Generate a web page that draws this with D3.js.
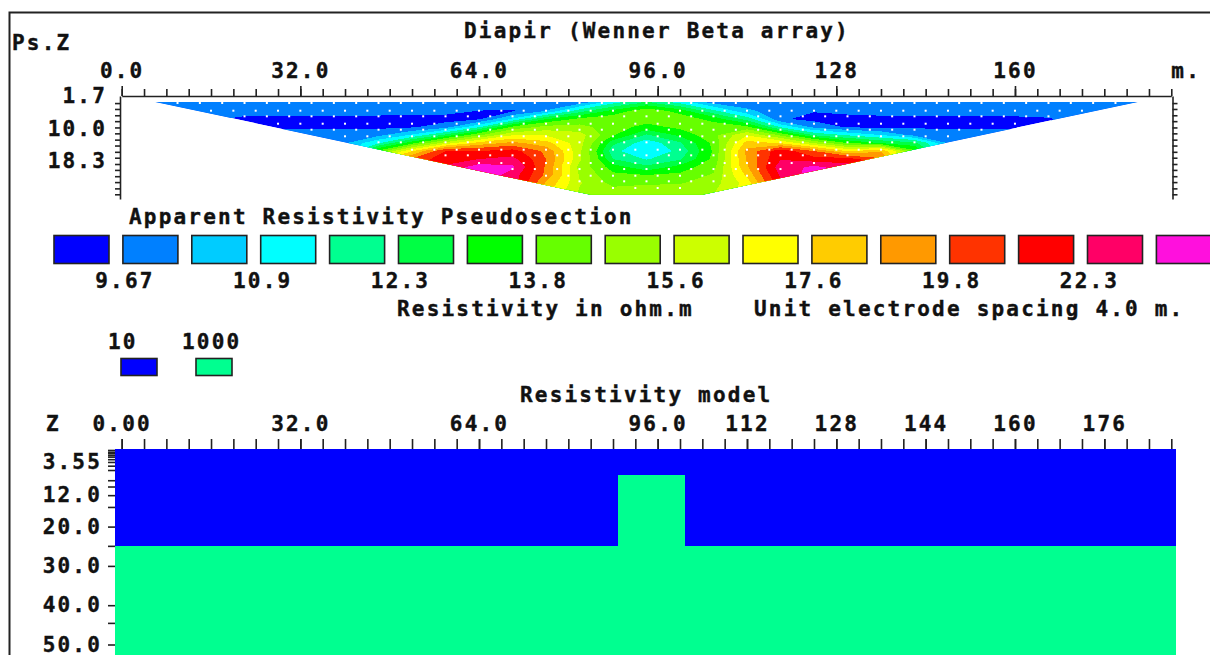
<!DOCTYPE html>
<html>
<head>
<meta charset="utf-8">
<script src="https://d3js.org/d3.v7.min.js"></script>
<style>
    html, body { margin: 0; padding: 0; background: #fff; overflow: hidden; }
    svg { display: block; }
    text, .axis text {
        font-family: "DejaVu Sans Mono", monospace;
        font-weight: bold;
        font-size: 21px;
        letter-spacing: 2.2px;
        fill: #111;
        stroke: #111;
        stroke-width: 0.4px;
    }
    .axis line, .axis path { stroke: #222; stroke-width: 1.6; fill: none; }
</style>
</head>
<body>
<div class="chart"></div>
<script>
// Colour legend
const bandColors = ['#0000ff', '#0080ff', '#00ccff', '#00ffff', '#00ff90', '#00ff44', '#00ff00', '#66ff00', '#99ff00',
    '#ccff00', '#ffff00', '#ffcc00', '#ff9900', '#ff3300', '#ff0000', '#ff0066', '#ff10dd']
const thresholds = [9.67, 10.27, 10.9, 11.58, 12.3, 13.03, 13.8, 14.68, 15.6, 16.57, 17.6, 18.67, 19.8, 21.0, 22.3, 23.7]
const legendLabels = ['9.67', '10.9', '12.3', '13.8', '15.6', '17.6', '19.8', '22.3']

// Pseudosection grid (metres along the line, pseudo depth, apparent resistivity in ohm.m)
const gridX = [4, 10, 16, 22, 28, 34, 40, 46, 52, 58, 64, 70, 76, 82, 88, 94, 100, 106, 112, 118, 124, 130, 136, 142, 148, 154, 160, 166, 172, 178, 184]
const gridDepth = [3.5, 5.5, 7.5, 9.6, 11.6, 13.7, 15.7, 17.7, 19.8, 21.8, 23.9, 25.9, 27.9]
const apparent = [
    [10, 10, 10, 10, 10, 10, 10, 10, 10, 10, 10, 10, 10, 10.1, 11.5, 12.5, 11.5, 10.2, 10, 10, 10, 10, 10, 10, 10, 10, 10, 10, 10, 10, 10],
    [10, 10, 10, 9.95, 9.95, 9.95, 9.95, 9.95, 9.9, 9.85, 9.65, 9.6, 10.3, 12, 13.3, 14.4, 13.5, 11.8, 10.4, 9.95, 9.7, 9.8, 9.9, 9.9, 10, 10, 10, 10, 10, 10, 10],
    [10, 10, 9.8, 9.5, 9.5, 9.5, 9.5, 9.45, 9.45, 9.45, 9.6, 11, 13, 14, 14.3, 14.2, 14.3, 13.5, 12, 9.75, 9.5, 9.5, 9.5, 9.5, 9.5, 9.5, 9.5, 9.6, 10, 10, 10],
    [10, 10, 10, 9.5, 9.55, 9.55, 9.55, 9.55, 9.6, 10, 11.5, 14, 15, 15, 14.2, 13.5, 14, 14.3, 14, 11.5, 10.1, 9.6, 9.55, 9.6, 9.55, 9.55, 9.55, 9.8, 10, 10, 10],
    [10, 10, 10, 10, 10, 10, 10, 10.1, 11, 12.5, 14.5, 16.5, 16.5, 16, 13.9, 12.2, 13.2, 14.4, 16.5, 14.5, 12.2, 11.5, 10.9, 10.1, 10, 10, 10, 10, 10, 10, 10],
    [10, 10, 10, 10, 10, 10.1, 10.2, 11.5, 13.5, 16, 18, 19, 18, 16, 12.5, 11.1, 12.2, 14, 18, 17.5, 15.5, 13.8, 13, 12.5, 10.2, 10, 10, 10, 10, 10, 10],
    [10, 10, 10, 10, 10, 10, 10.4, 14, 17.5, 21, 21, 21.5, 19.5, 15.8, 11.8, 10.9, 11.8, 13.9, 19, 21.8, 19.8, 17.5, 18.5, 14, 10.3, 10, 10, 10, 10, 10, 10],
    [10, 10, 10, 10, 10, 10, 10.5, 17, 20, 21.8, 22.3, 22.7, 19.8, 15.8, 12.3, 11.5, 12.2, 14, 18.8, 22.2, 21.5, 21.5, 20, 14, 10.3, 10, 10, 10, 10, 10, 10],
    [10, 10, 10, 10, 10, 10, 10.5, 17, 21, 22.5, 24.5, 24, 19.6, 15.3, 13.4, 12.5, 13.3, 14.4, 18.5, 23, 24, 23, 22, 14, 10.3, 10, 10, 10, 10, 10, 10],
    [10, 10, 10, 10, 10, 10, 10.5, 17, 22, 23, 25, 23, 19.5, 15.5, 14, 13.8, 14, 14.8, 17.8, 22.5, 24.5, 24, 22, 14, 10.3, 10, 10, 10, 10, 10, 10],
    [10, 10, 10, 10, 10, 10, 10.5, 17, 22, 23, 25, 23, 18.5, 15.7, 14.4, 14.5, 14.6, 15.2, 17, 22, 24.5, 24, 22, 14, 10.3, 10, 10, 10, 10, 10, 10],
    [10, 10, 10, 10, 10, 10, 10.5, 17, 22, 23, 25, 23, 18, 15.5, 15, 15.3, 15.2, 15.5, 17, 22, 24.5, 24, 22, 14, 10.3, 10, 10, 10, 10, 10, 10],
    [10, 10, 10, 10, 10, 10, 10.5, 17, 22, 23, 25, 23, 18, 15.5, 15.5, 15.6, 15.5, 15.5, 17, 22, 24.5, 24, 22, 14, 10.3, 10, 10, 10, 10, 10, 10]
]

// Outline of the measured area
const hullX = [6, 84, 104, 182]
const hullDepth = [3.2, 26.8, 26.8, 3.2]

// Measurement points, one entry per level
const dotDepth = [3.48, 5.44, 6.87, 8.75, 10.28, 11.95, 13.48, 15.36, 16.79, 18.75, 20.28, 21.98, 23.4, 25.1]
const dotFirst = [10, 16, 22, 28, 34, 40, 46, 52, 58, 64, 70, 76, 82, 88]
const dotLast = [178, 172, 166, 160, 154, 148, 142, 136, 130, 124, 118, 112, 106, 100]

// Axis ticks and labels
const topTicks = [0, 32, 64, 96, 128, 160]
const topLabels = ['0.0', '32.0', '64.0', '96.0', '128', '160']
const topDepthTicks = [3.5, 5, 6.6, 8.1, 9.7, 11.2, 12.8, 14.3, 15.9, 17.4, 19, 20.5, 22.1, 23.6, 25.2, 26.7]
const topDepthLabels = ['1.7', '10.0', '18.3']
const topDepthValues = [1.7, 10, 18.3]
const modelTicks = [0, 32, 64, 96, 112, 128, 144, 160, 176]
const modelLabels = ['0.00', '32.0', '64.0', '96.0', '112', '128', '144', '160', '176']
const modelDepthTicks = [0.5, 0.95, 1.35, 1.8, 2.2, 2.85, 3.55, 4.5, 5.6, 8.2, 9.8, 12, 15, 20, 24.9, 30, 40, 44.5, 50]
const modelDepthLabels = { 3.55: '3.55', 12: '12.0', 20: '20.0', 30: '30.0', 40: '40.0', 50: '50.0' }

// Resistivity model
const modelRes = [10, 1000]
const modelColors = ['#0000ff', '#00ff90']
const blockRes = [10, 1000, 1000]
const blockX0 = [-1.2, -1.2, 88.9]
const blockX1 = [188.8, 188.8, 100.9]
const blockTop = [0.25, 24.9, 6.9]
const blockBottom = [24.9, 60, 24.9]

const width = 1210
const height = 655

const svg = d3.select('.chart')
    .append('svg')
    .attr('width', width)
    .attr('height', height)

// Scales
const xScale = d3.scaleLinear().domain([0, 188]).range([121.7, 1171.3])
const yTop = d3.scaleLinear().domain([1.7, 27.9]).range([96, 199])
const yModel = d3.scaleLinear().domain([0, 50]).range([448, 644.5])
const legendX = d3.scaleLinear().domain([0, 1]).range([54, 122.9])
const modelColor = d3.scaleOrdinal().domain(modelRes).range(modelColors)
const colX = d3.scaleLinear().domain([0, gridX.length - 1]).range([gridX[0], gridX[gridX.length - 1]])
const rowDepth = d3.scaleLinear().domain([0, gridDepth.length - 1]).range([gridDepth[0], gridDepth[gridDepth.length - 1]])

// Frame
svg.append('path')
    .attr('d', 'M9.5,' + height + 'V12.5H' + width)
    .attr('fill', 'none')
    .attr('stroke', '#222')
    .attr('stroke-width', 2)

svg.append('text').attr('x', 12).attr('y', 50).text('Ps.Z')
svg.append('text').attr('x', 464).attr('y', 38).text('Diapir (Wenner Beta array)')

// Pseudosection contours
const hull = d3.line().x((d, i) => xScale(hullX[i])).y(d => yTop(d))
svg.append('clipPath')
    .attr('id', 'hull')
    .append('path')
    .attr('d', hull(hullDepth) + 'Z')

const contours = d3.contours()
    .size([gridX.length, gridDepth.length])
    .thresholds(thresholds)(d3.merge(apparent))

const gridPath = d3.geoPath(d3.geoTransform({
    point: function (x, y) {
        this.stream.point(xScale(colX(x - 0.5)), yTop(rowDepth(y - 0.5)))
    }
}))

const section = svg.append('g').attr('clip-path', 'url(#hull)')
section.append('path')
    .attr('d', hull(hullDepth) + 'Z')
    .attr('fill', bandColors[0])
section.selectAll('.band')
    .data(contours)
    .enter()
    .append('path')
    .attr('class', 'band')
    .attr('d', gridPath)
    .attr('fill', (d, i) => bandColors[i + 1])
    .attr('shape-rendering', 'crispEdges')

// Measurement points
dotDepth.forEach((depth, i) => {
    svg.append('g').selectAll('rect')
        .data(d3.range(dotFirst[i], dotLast[i] + 1, 4))
        .enter()
        .append('rect')
        .attr('x', d => xScale(d) - 1)
        .attr('y', yTop(depth) - 1)
        .attr('width', 2)
        .attr('height', 2)
        .attr('fill', '#fff')
})

// Top panel axes
const smallTicks = d3.range(0, 189, 4)
const topAxis = svg.append('g').attr('class', 'axis').attr('transform', 'translate(0,96)')
topAxis.call(d3.axisTop(xScale).tickValues(smallTicks).tickSize(7).tickSizeOuter(0).tickFormat(''))
const topMajor = svg.append('g').attr('class', 'axis').attr('transform', 'translate(0,96)')
topMajor.call(d3.axisTop(xScale).tickValues(topTicks).tickSize(10).tickSizeOuter(0).tickPadding(8)
    .tickFormat((d, i) => topLabels[i]))
topMajor.select('.domain').remove()

svg.append('text').attr('x', xScale(188)).attr('y', 78).text('m.')

svg.append('g')
    .attr('class', 'axis')
    .attr('transform', 'translate(120,0)')
    .call(d3.axisLeft(yTop).tickValues(topDepthTicks).tickSize(5).tickSizeOuter(0).tickFormat(''))
svg.append('g')
    .attr('class', 'axis')
    .attr('transform', 'translate(1172.5,0)')
    .call(d3.axisRight(yTop).tickValues(topDepthTicks).tickSize(5).tickSizeOuter(0).tickFormat(''))

const topDepthAxis = svg.append('g')
    .attr('class', 'axis')
    .attr('transform', 'translate(120,0)')
    .call(d3.axisLeft(yTop).tickValues(topDepthValues).tickSize(0).tickPadding(13)
        .tickFormat((d, i) => topDepthLabels[i]))
topDepthAxis.select('.domain').remove()

// Colour legend
svg.append('text').attr('x', 129).attr('y', 224).text('Apparent Resistivity Pseudosection')

svg.selectAll('.swatch')
    .data(bandColors)
    .enter()
    .append('rect')
    .attr('class', 'swatch')
    .attr('x', (d, i) => legendX(i))
    .attr('y', 235.5)
    .attr('width', 55)
    .attr('height', 28)
    .attr('fill', d => d)
    .attr('stroke', '#222')
    .attr('stroke-width', 1.6)

svg.selectAll('.legend-label')
    .data(legendLabels)
    .enter()
    .append('text')
    .attr('class', 'legend-label')
    .attr('x', (d, i) => legendX(i * 2 + 1) + 2)
    .attr('y', 288)
    .attr('text-anchor', 'middle')
    .text(d => d)

svg.append('text').attr('x', 397).attr('y', 316).text('Resistivity in ohm.m')
svg.append('text').attr('x', 754).attr('y', 316).text('Unit electrode spacing 4.0 m.')

// Model legend
const modelLegendX = d3.scaleOrdinal().domain(modelRes).range([121, 196])
svg.selectAll('.model-swatch')
    .data(modelRes)
    .enter()
    .append('rect')
    .attr('class', 'model-swatch')
    .attr('x', d => modelLegendX(d))
    .attr('y', 358.5)
    .attr('width', 36)
    .attr('height', 17)
    .attr('fill', d => modelColor(d))
    .attr('stroke', '#222')
    .attr('stroke-width', 1.6)
svg.selectAll('.model-label')
    .data(modelRes)
    .enter()
    .append('text')
    .attr('class', 'model-label')
    .attr('x', (d, i) => i === 0 ? 108 : 182)
    .attr('y', 349)
    .text(d => d)

// Resistivity model
svg.append('text').attr('x', 520).attr('y', 402).text('Resistivity model')
svg.append('text').attr('x', 46).attr('y', 431).text('Z')

svg.selectAll('.block')
    .data(blockRes)
    .enter()
    .append('rect')
    .attr('class', 'block')
    .attr('x', (d, i) => xScale(blockX0[i]))
    .attr('y', (d, i) => yModel(blockTop[i]))
    .attr('width', (d, i) => xScale(blockX1[i]) - xScale(blockX0[i]))
    .attr('height', (d, i) => yModel(blockBottom[i]) - yModel(blockTop[i]))
    .attr('fill', d => modelColor(d))
    .attr('shape-rendering', 'crispEdges')

const modelAxis = svg.append('g').attr('class', 'axis').attr('transform', 'translate(0,449)')
modelAxis.call(d3.axisTop(xScale).tickValues(smallTicks).tickSize(10).tickSizeOuter(0).tickFormat(''))
modelAxis.select('.domain').remove()
const modelMajor = svg.append('g').attr('class', 'axis').attr('transform', 'translate(0,449)')
modelMajor.call(d3.axisTop(xScale).tickValues(modelTicks).tickSize(10).tickSizeOuter(0).tickPadding(8)
    .tickFormat((d, i) => modelLabels[i]))
modelMajor.select('.domain').remove()

const modelDepthAxis = svg.append('g')
    .attr('class', 'axis')
    .attr('transform', 'translate(115,0)')
    .call(d3.axisLeft(yModel).tickValues(modelDepthTicks).tickSize(7).tickSizeOuter(0).tickPadding(6)
        .tickFormat(d => modelDepthLabels[d] || ''))
modelDepthAxis.select('.domain').remove()
</script>
</body>
</html>
